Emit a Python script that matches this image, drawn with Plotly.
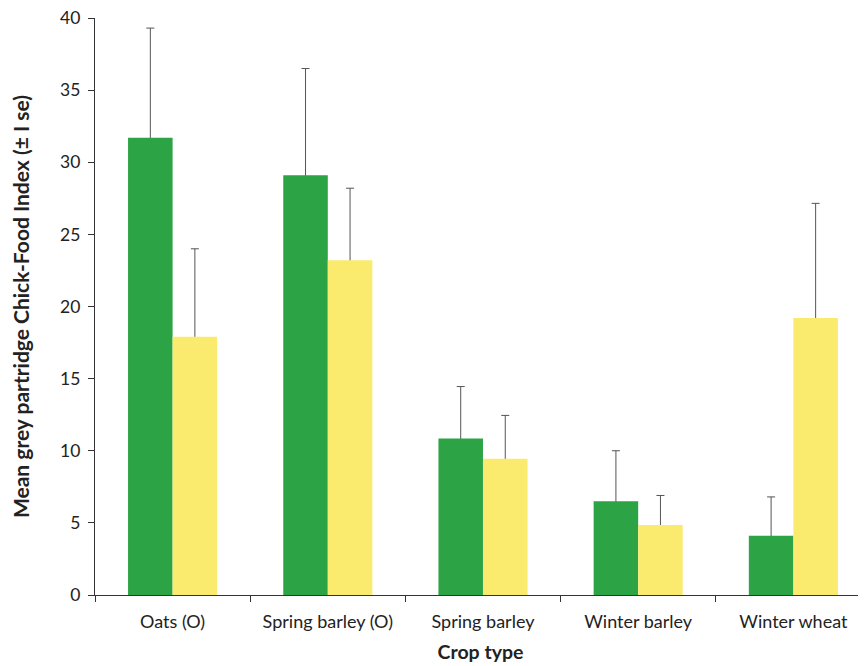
import plotly.graph_objects as go

categories = ["Oats (O)", "Spring barley (O)", "Spring barley", "Winter barley", "Winter wheat"]
green_vals = [31.7, 29.1, 10.85, 6.5, 4.1]
green_err_top = [39.3, 36.5, 14.45, 10.0, 6.8]
yellow_vals = [17.9, 23.2, 9.45, 4.85, 19.2]
yellow_err_top = [24.0, 28.2, 12.45, 6.9, 27.15]
y_ticks = [0, 5, 10, 15, 20, 25, 30, 35, 40]

green_err = [t - v for t, v in zip(green_err_top, green_vals)]
yellow_err = [t - v for t, v in zip(yellow_err_top, yellow_vals)]

font_family = "Lato, 'Open Sans', sans-serif"
err_color = "#555555"
green = "#2CA345"
yellow = "#FAEA6E"

fig = go.Figure()
# transparent carrier traces for the (upper) error bars, drawn below the bars
for vals, err, grp in [(green_vals, green_err, "g"), (yellow_vals, yellow_err, "y")]:
    fig.add_trace(go.Bar(
        x=categories, y=vals, offsetgroup=grp,
        marker=dict(color="rgba(0,0,0,0)", line=dict(width=0)),
        error_y=dict(type="data", symmetric=True, array=err,
                     color=err_color, thickness=1, width=4),
        showlegend=False, hoverinfo="skip",
    ))
for vals, col, grp in [(green_vals, green, "g"), (yellow_vals, yellow, "y")]:
    fig.add_trace(go.Bar(
        x=categories, y=vals, offsetgroup=grp,
        marker=dict(color=col, line=dict(width=0)),
        showlegend=False,
    ))

fig.update_layout(
    width=858, height=658,
    margin=dict(l=87, r=0, t=10, b=71),
    paper_bgcolor="white", plot_bgcolor="white",
    barmode="group", bargap=0.426, bargroupgap=0,
    font=dict(family=font_family, size=17.5, color="#222222"),
)
fig.update_xaxes(
    range=[-0.5, 4.468], tickson="boundaries", ticks="outside", ticklen=6,
    tickcolor="#333333", showline=True, linecolor="#333333", linewidth=1.2,
    showgrid=False, tickfont=dict(size=18), automargin=False,
    ticklabelstandoff=10,
    title=dict(text="<b>Crop type</b>", font=dict(size=19.5), standoff=14),
)
fig.update_yaxes(
    range=[0, 40], tickvals=y_ticks, ticks="outside", ticklen=6,
    tickcolor="#333333", showline=True, linecolor="#333333", linewidth=1.2,
    showgrid=False, zeroline=False, tickfont=dict(size=17.5), automargin=False,
    ticklabelstandoff=4, ticklabeloverflow="allow",
    title=dict(text="<b>Mean grey partridge Chick-Food Index (± I se)</b>", font=dict(size=21), standoff=30),
)

fig.write_html("out.html")
